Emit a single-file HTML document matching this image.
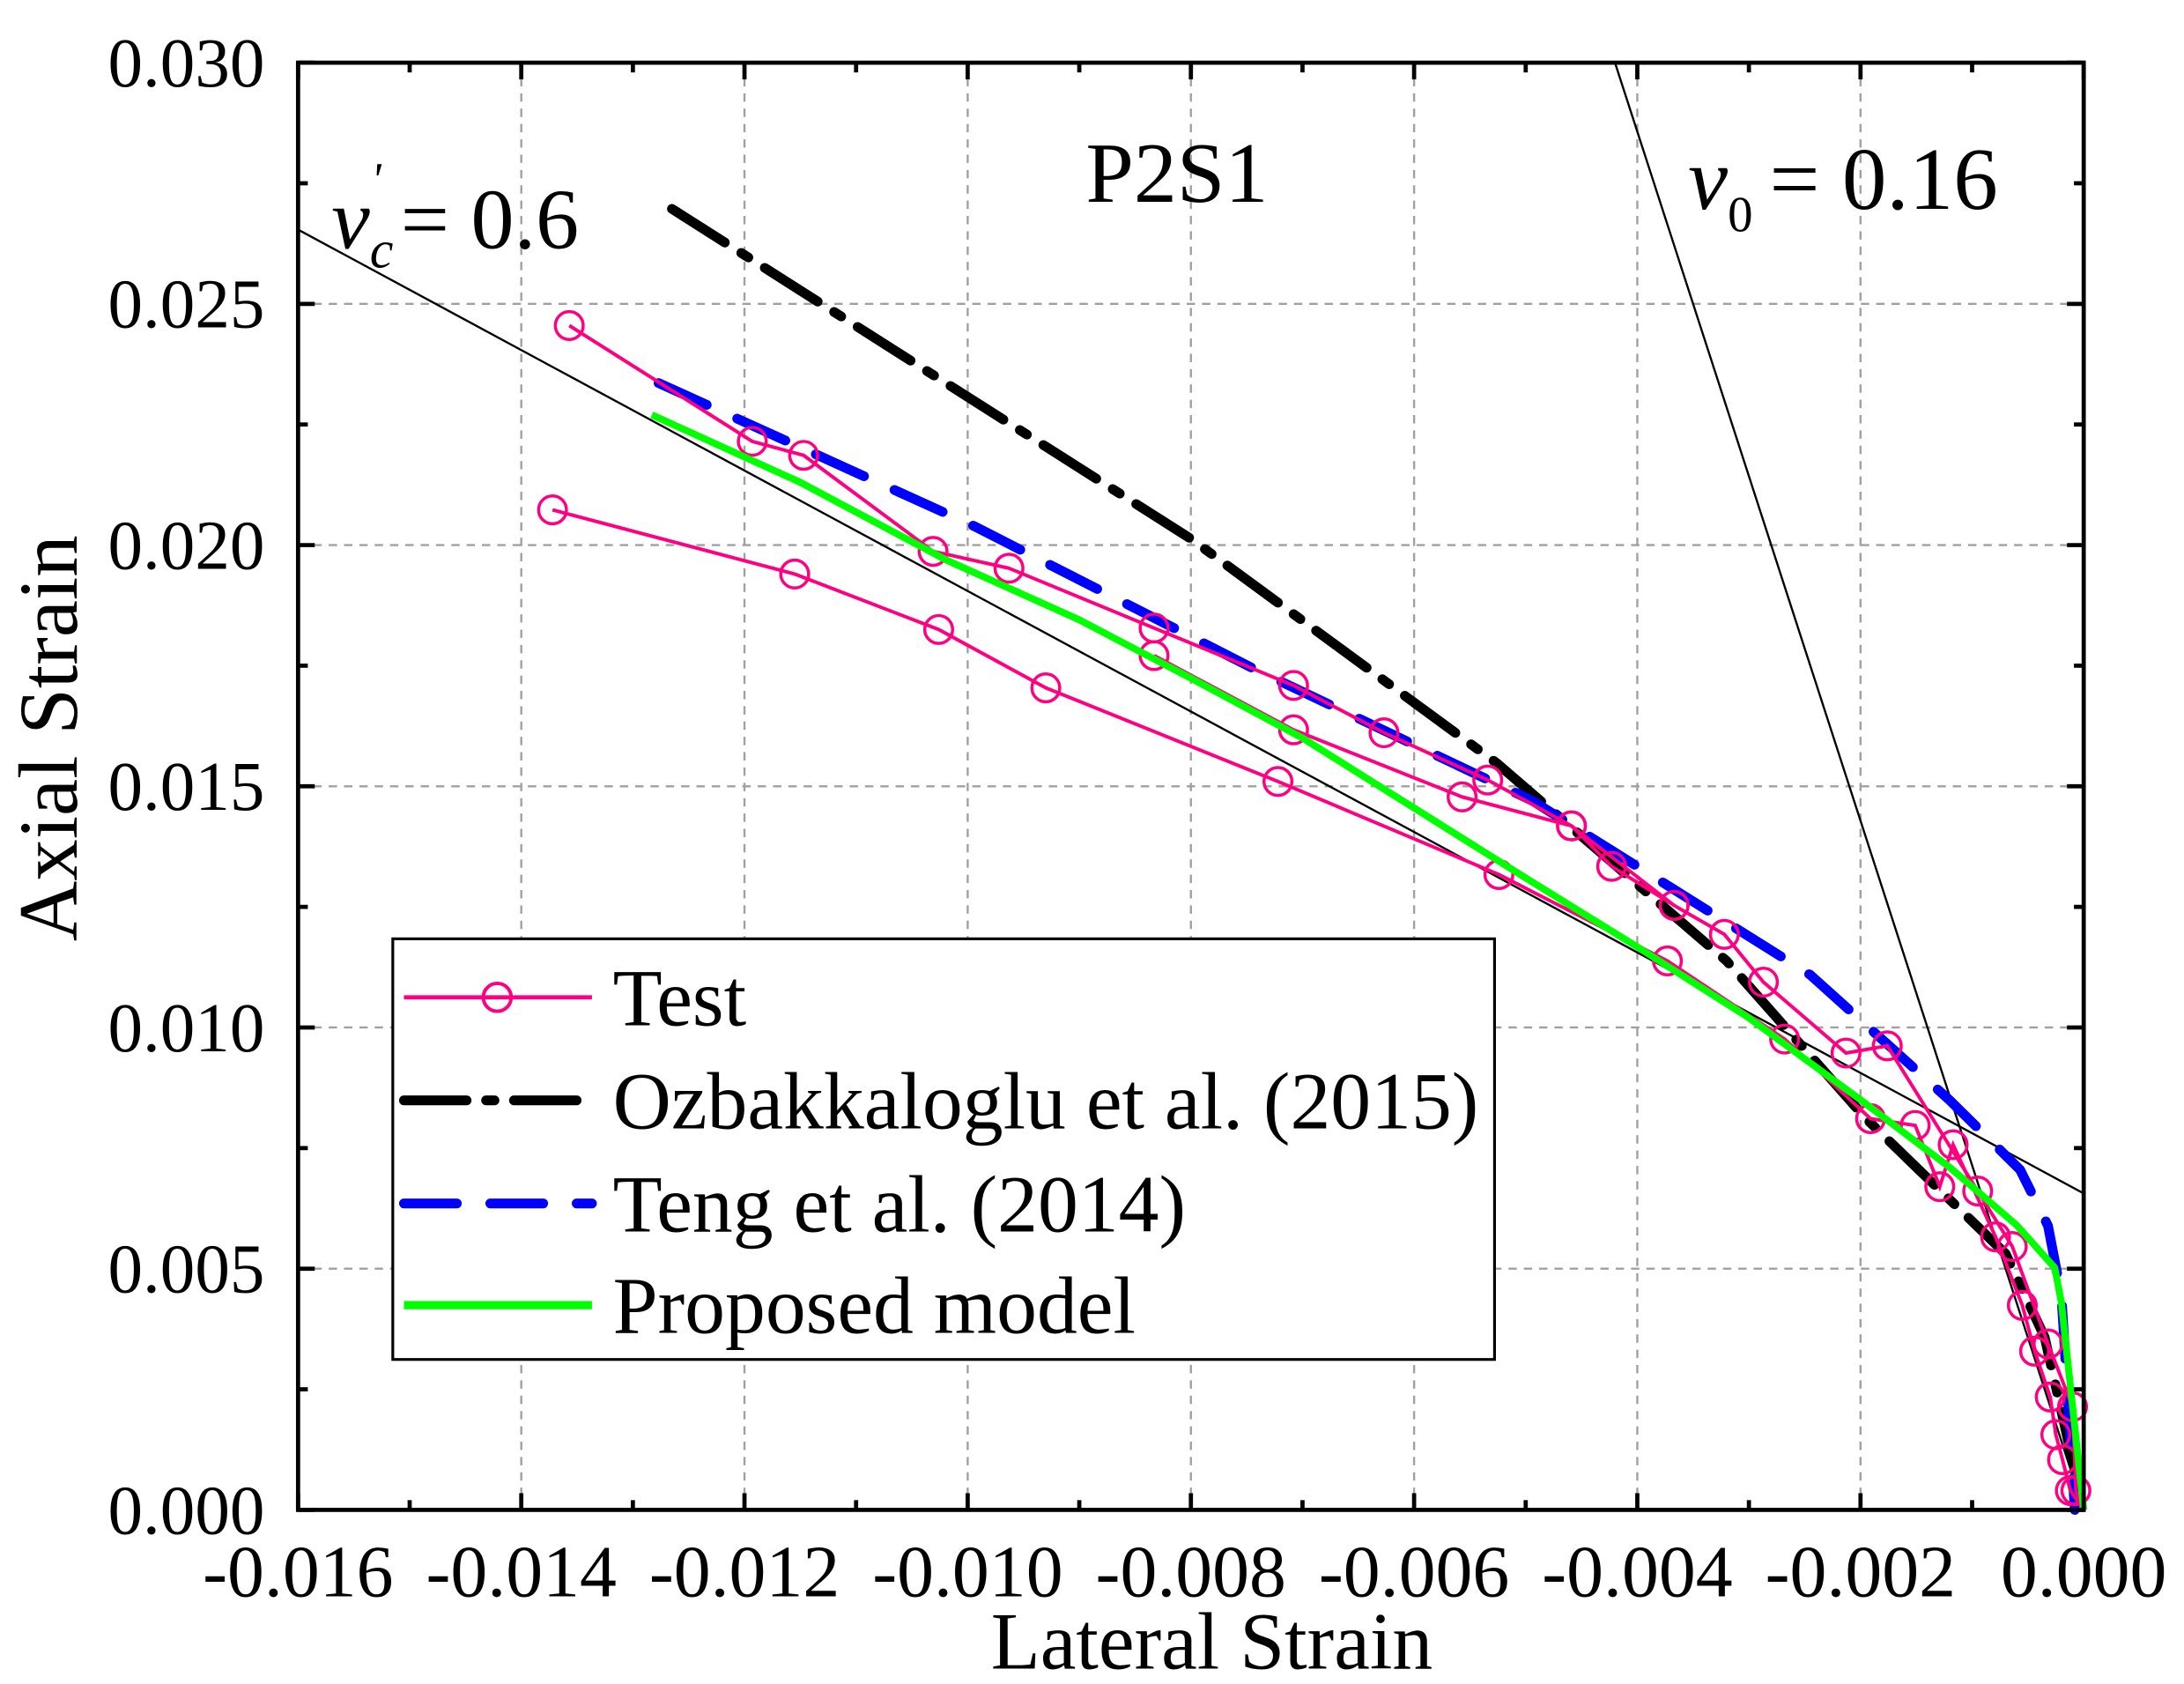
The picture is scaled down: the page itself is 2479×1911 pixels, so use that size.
<!DOCTYPE html>
<html><head><meta charset="utf-8"><style>
html,body{margin:0;padding:0;background:#fff;}
svg{display:block;}
text{font-family:"Liberation Serif",serif;fill:#000;}
</style></head><body>
<svg id="chart" width="2479" height="1911" viewBox="0 0 1568 1209" preserveAspectRatio="none" xmlns="http://www.w3.org/2000/svg">
<g id="grid"></g>
<g id="refs"></g>
<g id="series"></g>
<g id="axes"></g>
<text x="845" y="145" font-size="62" text-anchor="middle">P2S1</text>
<text x="238" y="178" font-size="62" font-style="italic">ν<tspan font-size="38" dy="14">c</tspan><tspan font-size="34" dx="-16" dy="-52">'</tspan><tspan font-style="normal" font-size="62" dx="14" dy="38">= 0.6</tspan></text>
<text x="1212" y="150" font-size="64" font-style="italic">ν<tspan font-style="normal" font-size="36" dy="16">0</tspan><tspan font-style="normal" font-size="64" dx="12" dy="-16">= 0.16</tspan></text>
<text x="870" y="1198" font-size="58" text-anchor="middle">Lateral Strain</text>
<text transform="translate(55,530) rotate(-90)" font-size="60" text-anchor="middle">Axial Strain</text>
<g id="legend">
<rect x="282" y="674" width="791" height="302" fill="#fff" stroke="#000" stroke-width="2"/>
<g><line x1="290" y1="716" x2="425" y2="716" stroke="#ff0080" stroke-width="3"/><circle cx="357" cy="716" r="10" fill="none" stroke="#ff0080" stroke-width="2.5"/><text x="440" y="736" font-size="58">Test</text></g>
<g><line x1="290" y1="790" x2="425" y2="790" stroke="#000" stroke-width="7" stroke-dasharray="45,14,6,14" stroke-linecap="round"/><text x="440" y="810" font-size="58">Ozbakkaloglu et al. (2015)</text></g>
<g><line x1="290" y1="864" x2="425" y2="864" stroke="#0000ff" stroke-width="7" stroke-dasharray="38,24" stroke-linecap="round"/><text x="440" y="884" font-size="58">Teng et al. (2014)</text></g>
<g><line x1="290" y1="937" x2="425" y2="937" stroke="#00ff00" stroke-width="6"/><text x="440" y="957" font-size="58">Proposed model</text></g>
</g>
</svg>
<script>
const xTicks=[-0.016,-0.014,-0.012,-0.010,-0.008,-0.006,-0.004,-0.002,0.000];
const xTickLabels=["-0.016","-0.014","-0.012","-0.010","-0.008","-0.006","-0.004","-0.002","0.000"];
const yTicks=[0,0.005,0.010,0.015,0.020,0.025,0.030];
const yTickLabels=["0.000","0.005","0.010","0.015","0.020","0.025","0.030"];
const test1X=[-0.01357,-0.01193,-0.01147,-0.01031,-0.00963,-0.00833,-0.00708,-0.00627,-0.00534,-0.00459,-0.00423,-0.00367,-0.00322,-0.00287,-0.00213,-0.00176,-0.00095,-0.00064,-0.00032,-0.0001,-0.00007,0];
const test1Y=[0.02455,0.02215,0.02186,0.01987,0.01952,0.01828,0.01709,0.01611,0.01513,0.01418,0.01334,0.01253,0.01193,0.01094,0.00947,0.00962,0.00661,0.00546,0.00344,0.00214,0.0004,0];
const test2X=[-0.01372,-0.01155,-0.01026,-0.0093,-0.00722,-0.00524,-0.00373,-0.00268,-0.00191,-0.00151,-0.00129,-0.00117,-0.00079,-0.00055,-0.00044,-0.0003,-0.00025,-0.00019,-0.00012,0];
const test2Y=[0.02073,0.0194,0.01825,0.01704,0.0151,0.01317,0.01138,0.00976,0.00811,0.00797,0.0067,0.00757,0.00566,0.00424,0.00329,0.00234,0.00156,0.00104,0.0004,0];
const test3X=[-0.00833,-0.00708,-0.00557,-0.00459,-0.00367];
const test3Y=[0.01771,0.01617,0.01478,0.01418,0.01253];
const ozbX=[-0.01265,-0.008,-0.00526,-0.0032,-0.00195,-0.0007,-0.00035,0];
const ozbY=[0.02697,0.02013,0.01548,0.01138,0.00811,0.00531,0.00358,0];
const tengX=[-0.01277,-0.00994,-0.00744,-0.00494,-0.00245,-0.0012,-0.00057,-0.00032,-0.0002,-0.00008];
const tengY=[0.02336,0.02039,0.01744,0.0147,0.01109,0.00849,0.00705,0.00589,0.00445,0];
const propX=[-0.01283,-0.0115,-0.0102,-0.009,-0.008,-0.007,-0.006,-0.005,-0.004,-0.003,-0.002,-0.0012,-0.0006,-0.00026,-0.0002,0];
const propY=[0.0227,0.0213,0.0197,0.01845,0.01724,0.0160,0.01455,0.0131,0.01167,0.0102,0.0085,0.0071,0.0059,0.00502,0.0043,0];
const nuCLineY=[0.02654,0.00656];
const nu0LineX=[-0.0042,0];

const L=214,R=1496,T=45,B=1084;
const sx=v=>L+(v-(-0.016))/0.016*(R-L);
const sy=v=>B-v/0.030*(B-T);
const NS="http://www.w3.org/2000/svg";
function mk(tag,parent,attrs){const e=document.createElementNS(NS,tag);for(const k in attrs)e.setAttribute(k,attrs[k]);parent.appendChild(e);return e;}
const grid=document.getElementById('grid'),axes=document.getElementById('axes'),series=document.getElementById('series'),refs=document.getElementById('refs');
xTicks.forEach((v,i)=>{
  if(i>0&&i<xTicks.length-1){const g=mk('line',grid,{x1:sx(v),x2:sx(v),y1:T,y2:B,stroke:'#a0a0a0','stroke-width':1.5,'stroke-dasharray':'6,5'});
  
  }
  const t=mk('text',axes,{x:sx(v),y:B+62,'font-size':53,'text-anchor':'middle'});t.textContent=xTickLabels[i];
  
  
  [[B,B-12],[T,T+12]].forEach(p=>mk('line',axes,{x1:sx(v),x2:sx(v),y1:p[0],y2:p[1],stroke:'#000','stroke-width':3}));
  if(i<xTicks.length-1){const m=v+0.001;[[B,B-7],[T,T+7]].forEach(p=>mk('line',axes,{x1:sx(m),x2:sx(m),y1:p[0],y2:p[1],stroke:'#000','stroke-width':3}));}
});
yTicks.forEach((v,i)=>{
  if(i>0&&i<yTicks.length-1){const g=mk('line',grid,{x1:L,x2:R,y1:sy(v),y2:sy(v),stroke:'#a0a0a0','stroke-width':1.5,'stroke-dasharray':'6,5'});
  
  }
  const t=mk('text',axes,{x:L-24,y:sy(v)+17,'font-size':50,'text-anchor':'end'});t.textContent=yTickLabels[i];
  
  
  [[L,L+12],[R,R-12]].forEach(p=>mk('line',axes,{x1:p[0],x2:p[1],y1:sy(v),y2:sy(v),stroke:'#000','stroke-width':3}));
  if(i<yTicks.length-1){const m=v+0.0025;[[L,L+7],[R,R-7]].forEach(p=>mk('line',axes,{x1:p[0],x2:p[1],y1:sy(m),y2:sy(m),stroke:'#000','stroke-width':3}));}
});
const frame=mk('rect',axes,{x:L,y:T,width:R-L,height:B-T,fill:'none',stroke:'#000','stroke-width':3});



const r1=mk('line',refs,{x1:sx(-0.016),y1:sy(nuCLineY[0]),x2:sx(0),y2:sy(nuCLineY[1]),stroke:'#000','stroke-width':1.5});


const r2=mk('line',refs,{x1:sx(nu0LineX[0]),y1:sy(0.030),x2:sx(nu0LineX[1]),y2:sy(0),stroke:'#000','stroke-width':1.5});



function pts(X,Y){return X.map((x,i)=>sx(x)+','+sy(Y[i])).join(' ');}
const oz=mk('polyline',series,{points:pts(ozbX,ozbY),fill:'none',stroke:'#000','stroke-width':7,'stroke-dasharray':'45,14,6,14','stroke-linecap':'round','stroke-linejoin':'round'});


const tg=mk('polyline',series,{points:pts(tengX,tengY),fill:'none',stroke:'#0000ff','stroke-width':7,'stroke-dasharray':'38,24','stroke-linecap':'round','stroke-linejoin':'round'});


[[test1X,test1Y,'test-series-1',true],[test2X,test2Y,'test-series-2',true],[test3X,test3Y,'test-series-3',false]].forEach(s=>{
  const p=mk('polyline',series,{points:pts(s[0],s[1]),fill:'none',stroke:'#ff0080','stroke-width':2.5});
  
  
  s[0].forEach((x,i)=>{if(s[3]&&i===s[0].length-1)return;const c=mk('circle',series,{cx:sx(x),cy:sy(s[1][i]),r:10,fill:'none',stroke:'#ff0080','stroke-width':2.2});
    
    });
});
const pr=mk('polyline',series,{points:pts(propX,propY),fill:'none',stroke:'#00ff00','stroke-width':5,'stroke-linejoin':'round'});


</script>
</body></html>
